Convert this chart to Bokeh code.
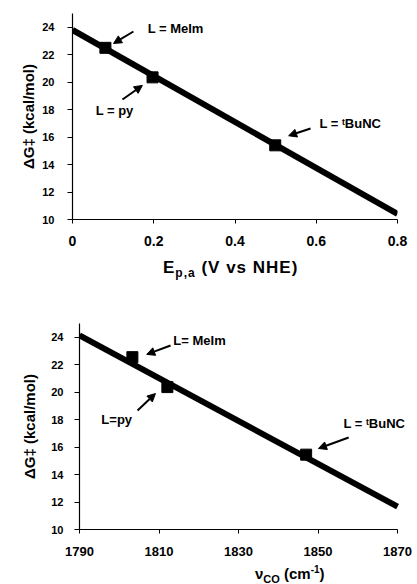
from bokeh.plotting import figure
from bokeh.models import Arrow, NormalHead, Label, FixedTicker, Range1d, Div
from bokeh.embed import file_html
from bokeh.resources import INLINE

# ---------------- data ----------------
# Top panel: activation barrier vs anodic peak potential
ep_x = [0.081, 0.197, 0.499]
ep_dg = [22.5, 20.35, 15.4]
ep_fit_x = [0.0, 0.8]
ep_fit_y = [23.8, 10.4]
ep_xticks = [0, 0.2, 0.4, 0.6, 0.8]
ep_xtick_labels = ["0", "0.2", "0.4", "0.6", "0.8"]

# Bottom panel: activation barrier vs CO stretching frequency
co_x = [1803.3, 1812.1, 1847.0]
co_dg = [22.55, 20.37, 15.45]
co_fit_x = [1790, 1870]
co_fit_y = [24.13, 11.67]
co_xticks = [1790, 1810, 1830, 1850, 1870]
co_xtick_labels = ["1790", "1810", "1830", "1850", "1870"]

dg_ticks = [10, 12, 14, 16, 18, 20, 22, 24]
dg_tick_labels = ["10", "12", "14", "16", "18", "20", "22", "24"]

ep_ligand_labels = ["L = MeIm", "L = py", "L = \u1d57BuNC"]
co_ligand_labels = ["L= MeIm", "L=py", "L = \u1d57BuNC"]

FONT = "Liberation Sans"


def make_panel(xr, xbounds, xticks, xtick_labels, xs, ys, fx, fy, fw, fh, bl, br, bt, bb,
               xfs, xstand, ystand, ylab_stand):
    p = figure(frame_width=fw, frame_height=fh, min_border_left=bl, min_border_right=br,
               min_border_top=bt, min_border_bottom=bb, x_range=Range1d(*xr),
               y_range=Range1d(10, 25), output_backend="svg", toolbar_location=None)
    p.outline_line_color = None
    p.grid.visible = False
    p.background_fill_color = "white"
    p.border_fill_color = "white"
    for ax in (p.xaxis[0], p.yaxis[0]):
        ax.axis_line_color = "black"
        ax.axis_line_width = 1.2
        ax.major_tick_line_color = "black"
        ax.major_tick_in = 0
        ax.minor_tick_line_color = None
        ax.major_label_text_font = FONT
        ax.major_label_text_font_style = "bold"
        ax.major_label_text_color = "black"
    p.xaxis.bounds = xbounds
    p.xaxis.ticker = FixedTicker(ticks=xticks)
    p.xaxis.major_label_overrides = {t: l for t, l in zip(xticks, xtick_labels)}
    p.xaxis.major_tick_out = 4
    p.xaxis.major_label_standoff = xstand
    p.xaxis.major_label_text_font_size = xfs
    p.yaxis.ticker = FixedTicker(ticks=dg_ticks)
    p.yaxis.major_label_overrides = {t: l for t, l in zip(dg_ticks, dg_tick_labels)}
    p.yaxis.major_tick_out = 5
    p.yaxis.major_label_standoff = ystand
    p.yaxis.major_label_text_font_size = "11px"
    p.yaxis.axis_label = "\u0394G\u2021 (kcal/mol)"
    p.yaxis.axis_label_text_font = FONT
    p.yaxis.axis_label_text_font_style = "bold"
    p.yaxis.axis_label_text_font_size = "15px"
    p.yaxis.axis_label_standoff = ylab_stand
    p.yaxis.axis_label_text_color = "black"
    p.line(fx, fy, line_width=6, color="black")
    p.scatter(xs, ys, marker="square", size=11, color="black")
    return p


def add_arrow(p, xs, ys, xe, ye):
    p.add_layout(Arrow(end=NormalHead(size=8, fill_color="black", line_color="black"),
                       x_start=xs, y_start=ys, x_end=xe, y_end=ye,
                       line_width=2, line_color="black"))


def add_text(p, x, y, text, size="13px"):
    p.add_layout(Label(x=x, y=y, text=text,
                       text_font=FONT, text_font_style="bold", text_font_size=size,
                       text_color="black", text_baseline="middle", text_align="left"))


def title_div(html, left, top, height, size, spacing):
    inner = ('<div style="margin-left:%dpx; margin-top:%dpx; white-space:nowrap; '
             'font-family:\'Liberation Sans\', Arial, sans-serif; font-weight:bold; '
             'font-size:%dpx; letter-spacing:%spx; line-height:18px; color:black;">%s</div>'
             ) % (left, top, size, spacing, html)
    return Div(text=inner, width=417, height=height, margin=0)


# ---------------- top panel ----------------
p1 = make_panel((0, 0.8), (0, 0.8), ep_xticks, ep_xtick_labels, ep_x, ep_dg,
                ep_fit_x, ep_fit_y, 325, 206, 72, 20, 13, 36, "14px", 12, 13, 2)
add_text(p1, 0.185, 23.9, ep_ligand_labels[0])
add_arrow(p1, 0.150, 23.69, 0.101, 22.82)
add_text(p1, 0.057, 17.94, ep_ligand_labels[1])
add_arrow(p1, 0.123, 18.74, 0.172, 19.76)
add_text(p1, 0.608, 17.0, ep_ligand_labels[2])
add_arrow(p1, 0.586, 16.63, 0.532, 16.1)

div1 = title_div('E<sub style="font-size:12px; line-height:0; vertical-align:-4px;">p,a</sub>'
                 ' (V vs NHE)', 163, 4, 35, 17, 1)

# ---------------- bottom panel ----------------
p2 = make_panel((1790, 1873.5), (1790, 1870), co_xticks, co_xtick_labels, co_x, co_dg,
                co_fit_x, co_fit_y, 332, 206, 79, 6, 33, 34, "13px", 13, 11, 10)
add_text(p2, 1813.6, 23.77, co_ligand_labels[0])
add_arrow(p2, 1812.9, 23.4, 1806.9, 22.75)
add_text(p2, 1795.5, 18.0, co_ligand_labels[1])
add_arrow(p2, 1804.6, 18.67, 1809.1, 19.9)
add_text(p2, 1856.4, 17.7, co_ligand_labels[2])
add_arrow(p2, 1857.7, 16.7, 1850.1, 15.9)

div2 = title_div('\u03bd<sub style="font-size:11px; line-height:0; vertical-align:-4px;">CO</sub>'
                 ' (cm<sup style="font-size:10px; line-height:0; vertical-align:6px;">-1</sup>)',
                 255, 2, 21, 15, 0)

open("out.html", "w").write(file_html([p1, div1, p2, div2], INLINE))
